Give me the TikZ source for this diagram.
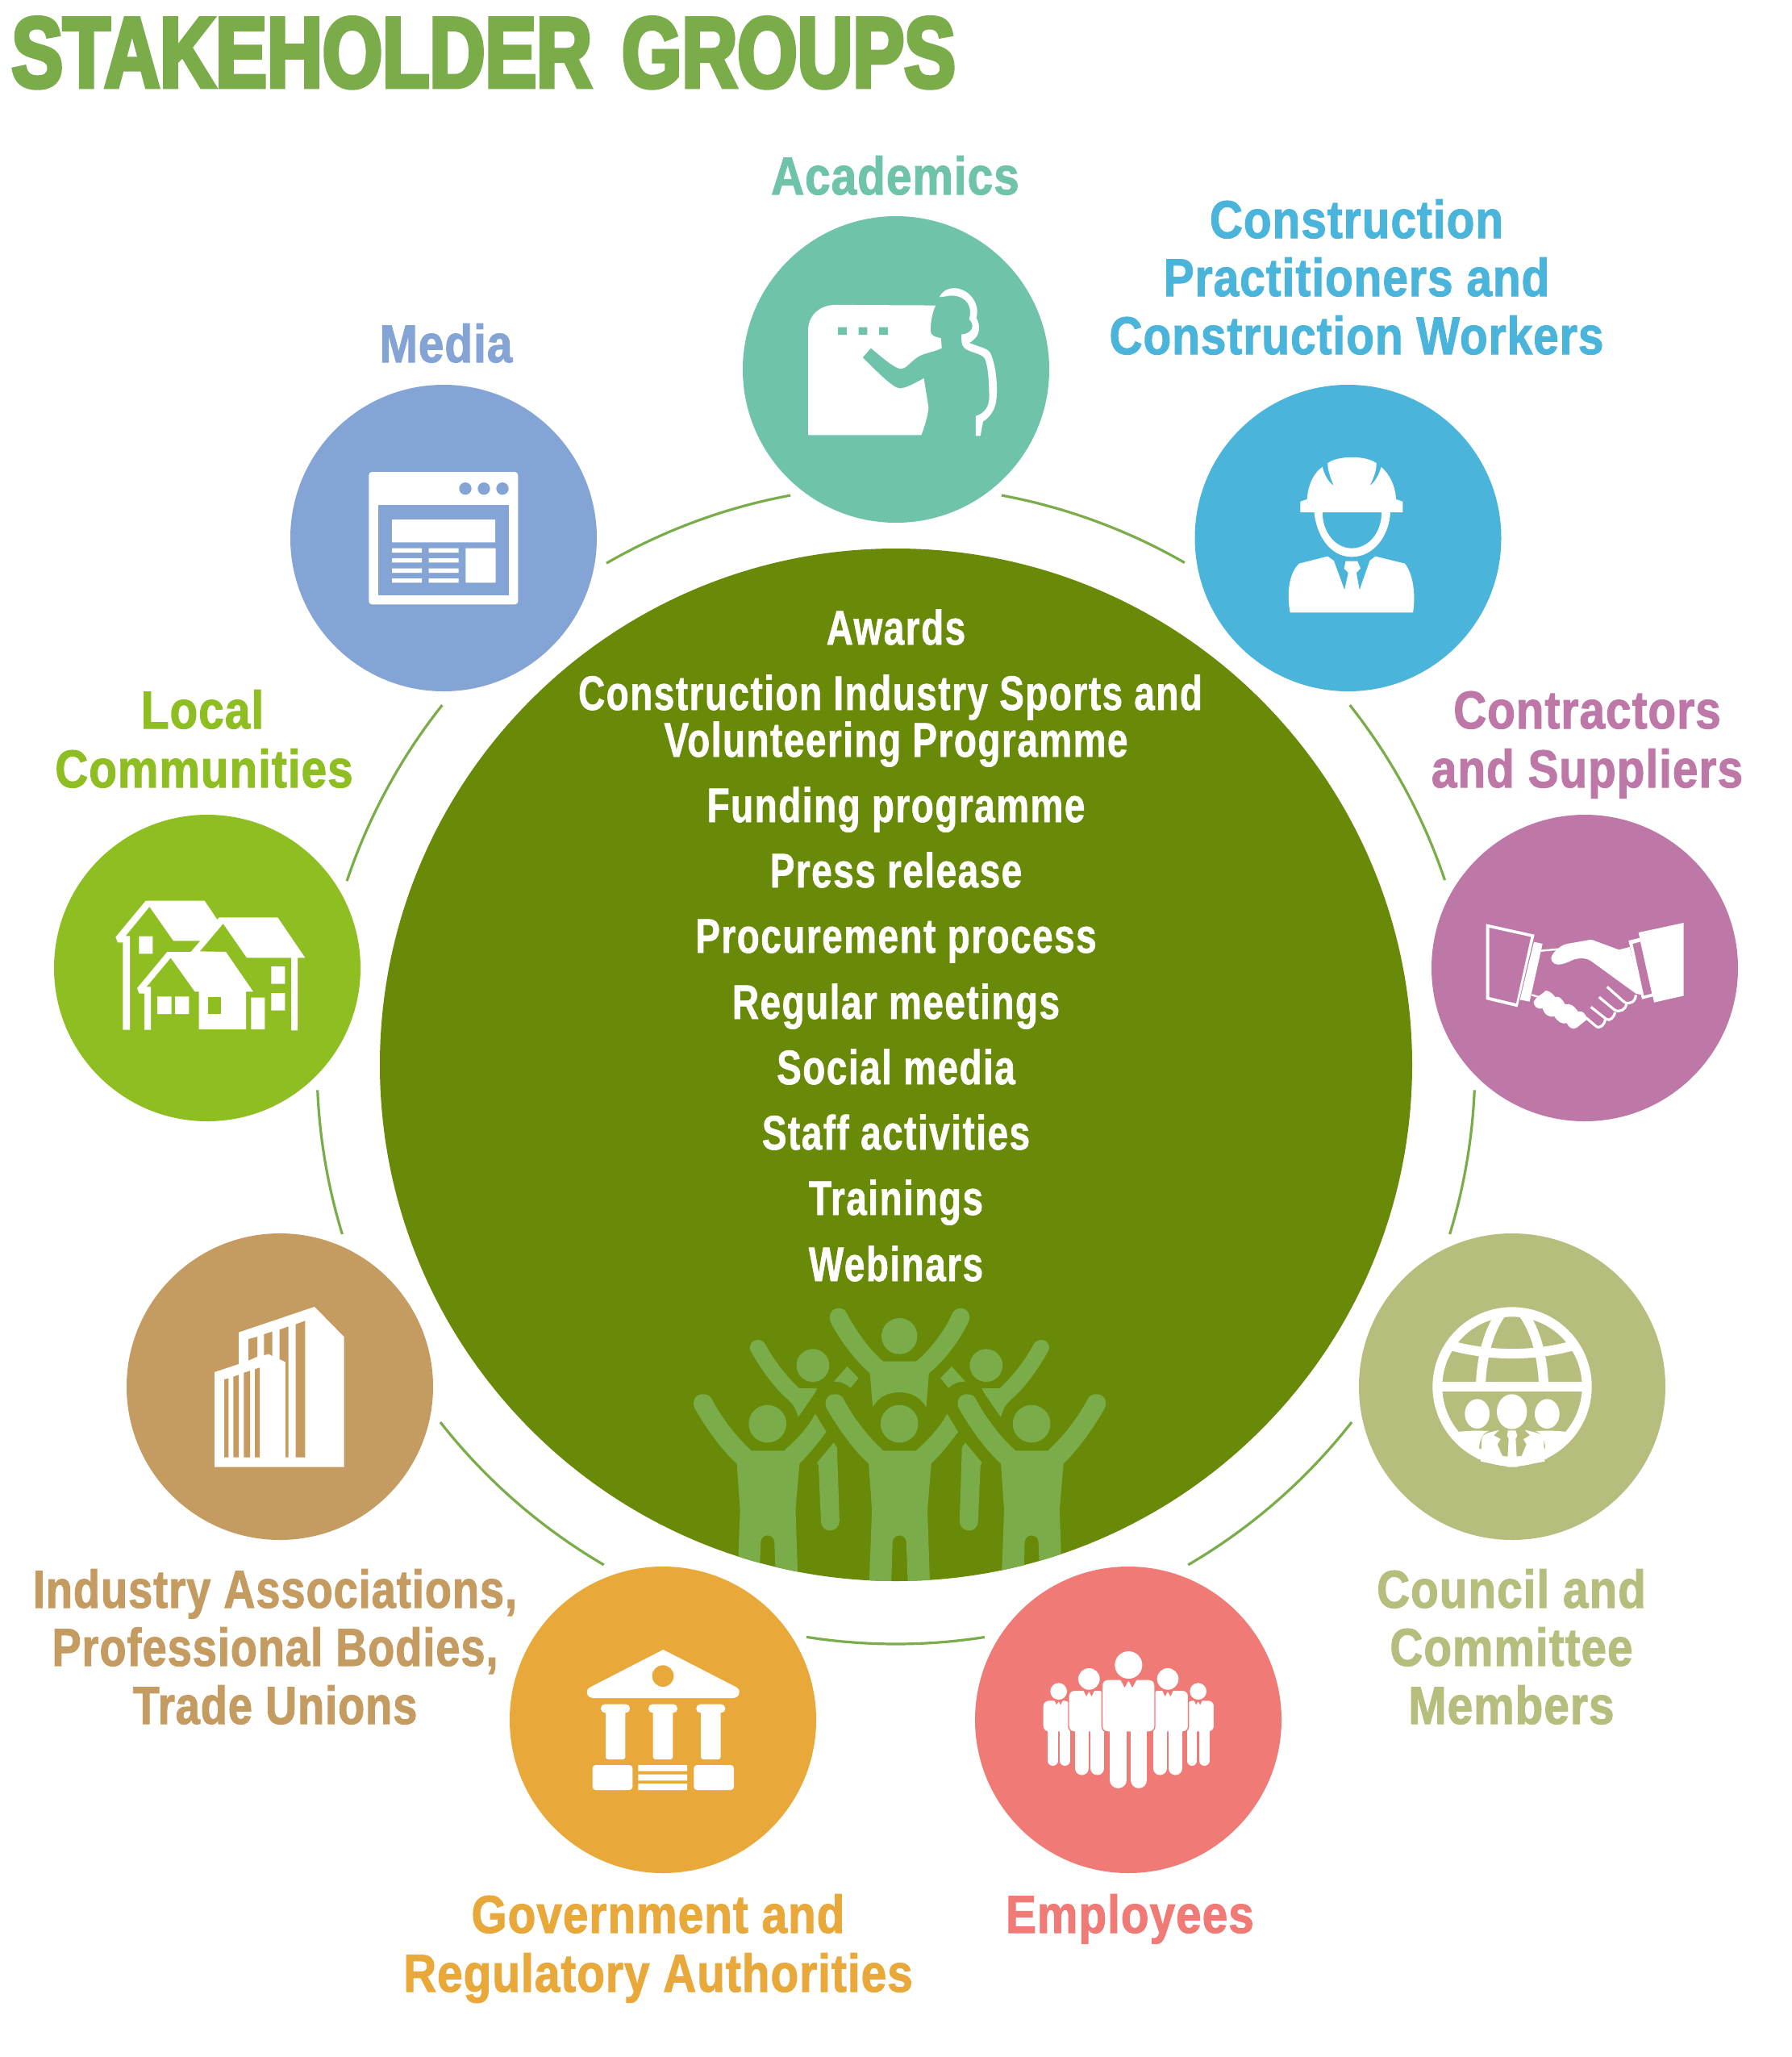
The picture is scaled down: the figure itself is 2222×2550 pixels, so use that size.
\documentclass[tikz,border=0pt]{standalone}
\usepackage{fontspec}
\setmainfont{Liberation Sans}
\newfontfamily\titlefont{Liberation Sans}[FakeStretch=0.77,FakeBold=4,WordSpace=1.4]
\newfontfamily\labelfont{Liberation Sans}[FakeStretch=0.86,FakeBold=1.5,LetterSpace=1.5]
\newfontfamily\labelnarrow{Liberation Sans}[FakeStretch=0.82,FakeBold=1.5,LetterSpace=1.5]
\newfontfamily\hubfont{Liberation Sans}[FakeStretch=0.765,FakeBold=1,LetterSpace=2.5]
\definecolor{cAcad}{HTML}{70C3AB}
\definecolor{cWork}{HTML}{4BB4DA}
\definecolor{cCont}{HTML}{BE78A8}
\definecolor{cCoun}{HTML}{B7BD7D}
\definecolor{cEmpl}{HTML}{F07A76}
\definecolor{cGovt}{HTML}{E9A83A}
\definecolor{cIndu}{HTML}{C49C61}
\definecolor{cLoca}{HTML}{8FBE23}
\definecolor{cMedi}{HTML}{84A4D5}
\definecolor{cHub}{HTML}{688A08}
\definecolor{cRing}{HTML}{7AAD4A}
\newcommand{\backfigure}{%
  \fill (508,338) ellipse[x radius=55,y radius=61];
  \fill (462,423)--(522,423)--(515,440)--(459,530) .. controls (450,495) and (440,480) .. (425,465) .. controls (380,425) and (330,345) .. (300,285) .. controls (290,262) and (305,243) .. (322,243) .. controls (335,243) and (345,250) .. (350,262) .. controls (375,315) and (420,380) .. (462,423) -- cycle;
  \fill (578,398)--(623,342)--(661,385)--(634,422) .. controls (620,405) and (600,398) .. (578,398) -- cycle;
  \fill (522,700)--(578,625)--(589,643)--(597,915) .. controls (597,940) and (580,952) .. (566,952) .. controls (550,952) and (535,940) .. (535,915) -- (527,710) -- cycle;
}
\newcommand{\frontlower}{%
  (905,703) -- (892,875) -- (900,1140) -- (826,1140) -- (821,995) .. controls (821,980) and (810,970) .. (798,970) .. controls (786,970) and (776,980) .. (775,995) -- (771,1140) -- (697,1140) -- (706,875) -- (695,703) .. controls (650,660) and (590,570) .. (553,495) .. controls (545,470) and (555,445) .. (582,445) .. controls (600,445) and (608,455) .. (612,465) .. controls (640,525) and (690,600) .. (738,648) .. controls (741,652) and (743,655) .. (745,655) -- cycle
}
\newcommand{\frontcut}{%
  \fill (798,555) ellipse[x radius=63,y radius=70];
  \fill (745,655)--(852,655) .. controls (855,655) and (858,653) .. (860,648) .. controls (900,610) and (935,565) .. (958,518) -- (995,585) .. controls (965,630) and (935,670) .. (905,703) -- \frontlower;
}
\newcommand{\frontfull}{%
  \fill (798,555) ellipse[x radius=63,y radius=70];
  \fill (745,655)--(852,655) .. controls (855,655) and (856,652) .. (859,648) .. controls (907,600) and (957,525) .. (985,465) .. controls (989,455) and (997,445) .. (1015,445) .. controls (1042,445) and (1052,470) .. (1044,495) .. controls (1007,570) and (947,660) .. (905,703) -- \frontlower;
}
\tikzset{
  stake/.style={circle,fill=#1,draw=none,minimum size=190pt,inner sep=0pt},
  hubdisc/.style={circle,fill=cHub,draw=none,minimum size=640pt,inner sep=0pt},
  ringarc/.style={draw=cRing,line width=1.6pt},
  ink/.style={fill=white,draw=none},
  labeltext/.style={text=#1,anchor=base,inner sep=0pt,font=\labelfont\bfseries\fontsize{33}{33}\selectfont},
  labelnarrowtext/.style={text=#1,anchor=base,inner sep=0pt,font=\labelnarrow\bfseries\fontsize{33}{33}\selectfont},
  hubtext/.style={text=white,anchor=base,inner sep=0pt,font=\hubfont\bfseries\fontsize{30}{30}\selectfont},
  titletext/.style={text=cRing,anchor=base west,inner sep=0pt,font=\titlefont\bfseries\fontsize{62}{62}\selectfont},
  zoomthree/.style={x=0.16667pt,y=-0.16667pt},
  zoomfive/.style={x=0.18497pt,y=-0.16667pt},
  zoomwide/.style={x=0.31888pt,y=-0.17857pt},
}
\begin{document}
\begin{tikzpicture}[x=0.5pt,y=-0.5pt]
\useasboundingbox (0,0) rectangle (2222,2550);
\fill[white] (0,0) rectangle (2222,2550);

\node[titletext] (title) at (14,108) {STAKEHOLDER GROUPS};

% ring
\coordinate (hubc) at (1111,1320);
\foreach \i/\s/\e in {1/79.5/60.1,2/38.4/18.6,3/-2.5/-17,4/-38.1/-59.7,5/-81.2/-98.9,6/-120.3/-141.9,7/-163/-177.5,8/161.5/141.6,9/120/100.5}{
  \path (hubc) ++(\s:359pt) coordinate (arcstart\i);
  \draw[ringarc] (arcstart\i) arc[start angle=\s,end angle=\e,radius=359pt];
}

% hub
\node[hubdisc] (hub) at (hubc) {};
\begin{scope}
\clip (hubc) circle[radius=640];
\begin{scope}[shift={(820,1580)},zoomfive,fill=cRing]
  % top figure
  \fill (798,229) ellipse[x radius=60,y radius=67];
  \fill (745,323)--(852,323) .. controls (855,323) and (856,321) .. (858,320) .. controls (900,280) and (950,210) .. (975,145) .. controls (985,125) and (1000,125) .. (1003,125) .. controls (1025,125) and (1040,150) .. (1030,175) .. controls (1000,245) and (950,320) .. (897,367) -- (888,493) .. controls (865,450) and (830,438) .. (798,438) .. controls (765,438) and (730,450) .. (709,493) -- (699,367) .. controls (650,320) and (595,240) .. (567,175) .. controls (558,145) and (575,125) .. (595,125) .. controls (610,125) and (618,135) .. (622,145) .. controls (650,205) and (695,275) .. (740,320) -- cycle;
  \backfigure
  \frontcut
\end{scope}
\begin{scope}[shift={(1410.7,1580)},x=-0.18497pt,y=-0.16667pt,fill=cRing]
  \backfigure
\end{scope}
\begin{scope}[shift={(656.5,1580)},zoomfive,fill=cRing]
  \frontcut
\end{scope}
\begin{scope}[shift={(983.9,1580)},zoomfive,fill=cRing]
  \frontfull
\end{scope}
\end{scope}

\node[hubtext] (h1) at (1111,799) {Awards};
\node[hubtext] (h2) at (1104,880) {Construction Industry Sports and};
\node[hubtext] (h3) at (1111,938) {Volunteering Programme};
\node[hubtext] (h4) at (1111,1019) {Funding programme};
\node[hubtext] (h5) at (1111,1100) {Press release};
\node[hubtext] (h6) at (1111,1181) {Procurement process};
\node[hubtext] (h7) at (1111,1263) {Regular meetings};
\node[hubtext] (h8) at (1111,1344) {Social media};
\node[hubtext] (h9) at (1111,1425) {Staff activities};
\node[hubtext] (h10) at (1111,1506) {Trainings};
\node[hubtext] (h11) at (1111,1588) {Webinars};

% stakeholder circles
\node[stake=cAcad] (academics) at (1111,458) {};
\node[stake=cWork] (workers) at (1671.5,667) {};
\node[stake=cCont] (contractors) at (1965,1200) {};
\node[stake=cCoun] (council) at (1875,1719) {};
\node[stake=cEmpl] (employees) at (1399,2132) {};
\node[stake=cGovt] (government) at (822,2132) {};
\node[stake=cIndu] (industry) at (347,1719) {};
\node[stake=cLoca] (local) at (257,1200) {};
\node[stake=cMedi] (media) at (550,667) {};

% labels
\node[labeltext=cAcad] (lAcad) at (1110,241) {Academics};
\node[labeltext=cWork] (lWork1) at (1682,295) {Construction};
\node[labeltext=cWork] (lWork2) at (1682,367) {Practitioners and};
\node[labeltext=cWork] (lWork3) at (1682,439) {Construction Workers};
\node[labeltext=cMedi] (lMedi) at (553,449) {Media};
\node[labeltext=cCont] (lCont1) at (1968,903) {Contractors};
\node[labeltext=cCont] (lCont2) at (1968,976) {and Suppliers};
\node[labeltext=cLoca] (lLoca1) at (251,903) {Local};
\node[labeltext=cLoca] (lLoca2) at (253,976) {Communities};
\node[labeltext=cCoun] (lCoun1) at (1874,1993) {Council and};
\node[labeltext=cCoun] (lCoun2) at (1874,2065) {Committee};
\node[labeltext=cCoun] (lCoun3) at (1874,2137) {Members};
\node[labelnarrowtext=cIndu] (lIndu1) at (341,1993) {Industry Associations,};
\node[labelnarrowtext=cIndu] (lIndu2) at (341,2065) {Professional Bodies,};
\node[labelnarrowtext=cIndu] (lIndu3) at (341,2137) {Trade Unions};
\node[labeltext=cGovt] (lGovt1) at (816,2396) {Government and};
\node[labeltext=cGovt] (lGovt2) at (816,2469) {Regulatory Authorities};
\node[labeltext=cEmpl] (lEmpl) at (1401,2396) {Employees};

% ICON academics / workers (wide crop coordinates)
\begin{scope}[shift={(900,260)},zoomwide]
  \fill[ink] (160,782) -- (160,420) .. controls (160,370) and (180,330) .. (215,330) -- (408,332) .. controls (400,360) and (398,400) .. (398,420) .. controls (398,435) and (405,442) .. (418,445) -- (420,480) .. controls (405,495) and (385,495) .. (370,515) .. controls (355,535) and (350,552) .. (340,552) .. controls (330,552) and (305,515) .. (282,480) -- (266,513) .. controls (290,555) and (325,620) .. (338,620) .. controls (350,620) and (370,600) .. (385,585) -- (394,685) .. controls (394,710) and (385,760) .. (380,782) -- cycle;
  \fill[cAcad] (218,408) rectangle (235,434) (258,408) rectangle (275,434) (298,408) rectangle (315,434);
  \fill[ink] (415,303) .. controls (420,285) and (430,272) .. (445,272) .. controls (475,275) and (495,330) .. (487,375) .. controls (495,400) and (497,440) .. (473,462) .. controls (495,478) and (510,480) .. (515,500) .. controls (525,540) and (530,620) .. (525,670) .. controls (522,700) and (510,725) .. (500,735) -- (495,785) -- (486,785) -- (486,716) .. controls (505,705) and (512,680) .. (512,650) .. controls (512,600) and (510,540) .. (503,515) .. controls (495,495) and (465,495) .. (460,470) .. controls (458,460) and (458,445) .. (458,433) .. controls (480,430) and (485,400) .. (473,380) .. controls (480,340) and (470,300) .. (440,298) .. controls (430,298) and (425,303) .. (415,303) -- cycle;
  % helmet
  \fill[ink] (1117,1050) -- (1117,1013) -- (1130,1005) .. controls (1132,950) and (1145,910) .. (1160,893) .. controls (1165,930) and (1175,950) .. (1182,958) .. controls (1175,930) and (1170,900) .. (1170,880) .. controls (1190,852) and (1245,852) .. (1265,880) .. controls (1265,910) and (1258,935) .. (1252,958) .. controls (1262,945) and (1270,920) .. (1274,893) .. controls (1290,915) and (1302,960) .. (1303,1005) -- (1316,1013) -- (1316,1050) -- cycle;
  \fill[ink] (1144,1050) .. controls (1148,1130) and (1175,1205) .. (1217,1205) .. controls (1260,1205) and (1290,1130) .. (1292,1050) -- (1275,1050) .. controls (1275,1120) and (1250,1175) .. (1217,1175) .. controls (1185,1175) and (1160,1120) .. (1160,1050) -- cycle;
  \fill[ink] (1097,1398) .. controls (1090,1330) and (1095,1260) .. (1115,1228) -- (1170,1203) -- (1182,1218) -- (1203,1320) -- (1210,1260) -- (1202,1245) -- (1205,1220) -- (1228,1220) -- (1234,1245) -- (1226,1260) -- (1232,1320) -- (1252,1218) -- (1263,1203) -- (1320,1228) .. controls (1335,1260) and (1342,1330) .. (1336,1398) -- cycle;
\end{scope}

% ICON media
\begin{scope}[shift={(340,470)},zoomthree]
  \fill[ink,rounded corners=2pt] (352,345) rectangle (907,838);
  \fill[cMedi] (387,468) rectangle (872,803);
  \fill[ink] (438,522) rectangle (822,607) (712,629) rectangle (824,757);
  \foreach \y in {629,666,704,741}{
    \fill[ink] (438,\y) rectangle (549,\y+16) (575,\y) rectangle (686,\y+16);
  }
  \foreach \x in {711,780,849}{\fill[cMedi] (\x,407) circle[radius=23];}
\end{scope}

% ICON local communities
\begin{scope}[shift={(60,1000)},zoomthree]
  \fill[ink] (250,485)--(362,350)--(581,350)--(628,420)--(635,412)--(853,412)--(955,562)--(927,562)--(927,832)--(903,832)--(903,562)--(738,562)--(650,435)--(563,538)--(660,540)--(762,688)--(735,688)--(735,828)--(560,828)--(560,688)--(545,688)--(455,562)--(365,670)--(381,670)--(381,830)--(357,830)--(357,695)--(338,695)--(330,675)--(442,540)--(530,540)--(565,499)--(465,499)--(376,372)--(287,481)--(303,481)--(303,830)--(277,830)--(277,505)--(258,505)--cycle;
  \fill[ink] (337,482) rectangle (388,547) (405,706) rectangle (458,771) (471,706) rectangle (523,771) (754,710) rectangle (805,828) (829,594) rectangle (880,659) (829,693) rectangle (880,758);
  \fill[cLoca] (594,707) rectangle (642,770);
\end{scope}

% ICON handshake
\begin{scope}[shift={(1780,1000)},zoomthree]
  \fill[ink,even odd rule] (188,436)--(368,476)--(305,745)--(188,717)--cycle (200,450)--(355,484)--(300,732)--(200,708)--cycle;
  \fill[ink] (366,503)--(398,510)--(350,725)--(314,718)--cycle;
  \draw[white,line width=1.2pt] (392,536)--(455,530) (358,700)--(395,711);
  \fill[ink] (365,725) .. controls (375,705) and (395,700) .. (410,684) .. controls (425,685) and (435,695) .. (445,708) .. controls (460,702) and (470,715) .. (482,735) .. controls (500,730) and (515,740) .. (530,762) .. controls (545,758) and (555,765) .. (565,790) -- (525,822) .. controls (510,832) and (495,820) .. (488,805) .. controls (470,810) and (455,800) .. (442,780) .. controls (425,785) and (405,775) .. (398,750) .. controls (375,755) and (365,740) .. (365,725) -- cycle;
  \fill[ink] (755,468)--(923,432)--(923,703)--(813,728)--cycle;
  \fill[ink,even odd rule] (718,498)--(760,488)--(812,705)--(768,716)--cycle (733,510)--(762,502)--(805,695)--(775,703)--cycle;
  \fill[ink] (455,587) .. controls (435,587) and (422,565) .. (435,550) .. controls (445,535) and (465,515) .. (490,510) -- (575,495) .. controls (585,495) and (590,497) .. (595,500) -- (682,532) -- (722,522) -- (768,700) -- (745,695) -- (580,575) .. controls (560,560) and (530,563) .. (510,570) .. controls (490,580) and (470,588) .. (455,587) -- cycle;
  \draw[white,line width=1.6pt] (638,670)--(700,725) .. controls (720,740) and (745,725) .. (745,700);
  \draw[white,line width=1.6pt] (608,708)--(665,755) .. controls (685,770) and (710,750) .. (710,735);
  \draw[white,line width=1.6pt] (578,745)--(635,790) .. controls (650,800) and (665,780) .. (668,765);
  \draw[white,line width=1.6pt] (560,785)--(595,815) .. controls (610,830) and (630,810) .. (632,790);
\end{scope}

% ICON industry
\begin{scope}[shift={(220,1580)},zoomthree]
  \fill[ink] (138,363)--(228,333)--(228,215)--(510,120)--(620,232)--(620,716)--(138,716)--cycle;
  \fill[cIndu] (264,240)--(297,231)--(297,305)--(264,320)--cycle
    (322,222)--(353,212)--(353,303)--(340,295)--(322,300)--cycle
    (380,205)--(413,193)--(413,680)--(402,680)--(402,325)--(380,315)--cycle
    (440,185)--(475,172)--(475,680)--(440,680)--cycle
    (174,390)--(190,386)--(190,680)--(174,680)--cycle
    (208,380)--(228,373)--(228,680)--(208,680)--cycle
    (247,365)--(270,358)--(270,680)--(247,680)--cycle
    (288,352)--(306,346)--(306,680)--(288,680)--cycle;
\end{scope}

% ICON council
\begin{scope}[shift={(1740,1580)},zoomthree]
  \begin{scope}
  \clip (405,417) circle[radius=290];
  \draw[white,line width=6pt] (288,410) .. controls (292,290) and (325,190) .. (375,130);
  \draw[white,line width=6pt] (522,410) .. controls (518,290) and (485,190) .. (435,130);
  \draw[white,line width=6pt] (170,262) .. controls (320,305) and (490,305) .. (640,262);
  \fill[ink] (100,399) rectangle (710,436);
  \end{scope}
  \draw[white,line width=6pt] (405,417) circle[radius=278];
  \fill[ink] (275,518) ellipse[x radius=46,y radius=55];
  \fill[ink] (404,510) ellipse[x radius=56,y radius=65];
  \fill[ink] (535,518) ellipse[x radius=46,y radius=55];
  \fill[ink] (205,585) .. controls (240,580) and (280,580) .. (318,582) .. controls (295,590) and (280,610) .. (278,688) -- cycle;
  \fill[ink] (605,585) .. controls (570,580) and (530,580) .. (492,582) .. controls (515,590) and (530,610) .. (532,688) -- cycle;
  \fill[ink] (288,695) -- (292,610) .. controls (295,595) and (305,590) .. (357,578) -- (337,598) -- (362,612) -- (350,632) -- (386,714) -- cycle;
  \fill[ink] (526,695) -- (522,610) .. controls (519,595) and (509,590) .. (452,578) -- (472,598) -- (447,612) -- (458,632) -- (424,714) -- cycle;
  \fill[ink] (390,580)--(418,580)--(424,600)--(418,610)--(424,716)--(386,716)--(392,610)--(386,600)--cycle;
\end{scope}

% ICON government
\begin{scope}[shift={(700,2020)},zoomthree]
  \fill[ink] (367,75) -- (640,215) .. controls (660,228) and (650,255) .. (625,255) -- (105,255) .. controls (85,255) and (72,228) .. (95,215) -- cycle;
  \fill[cGovt] (366,173) circle[radius=40];
  \foreach \a/\b/\c/\d in {135/243/153/226,312/420/329/403,490/598/507/581}{
    \fill[ink,rounded corners=2.5pt] (\a,278) rectangle (\b,310);
    \fill[ink,rounded corners=1.5pt] (\c,295) rectangle (\d,483);
  }
  \fill[ink,rounded corners=2pt] (104,504) rectangle (253,597);
  \fill[ink,rounded corners=2pt] (481,504) rectangle (630,597);
  \fill[ink] (274,504) rectangle (456,527) (274,539) rectangle (456,562) (274,573) rectangle (456,597);
\end{scope}

% ICON employees
\begin{scope}[shift={(1270,2020)},zoomthree]
  \foreach \hx/\hy/\hr/\tl/\tr/\tt/\la/\lb/\lw/\lbot/\cw/\cd in {
     128/230/31/69/172/263/106/151.5/6.3/488/17/17,
     647/230/31/603/707/263/624/670/6.3/488/17/17,
     241/184/40/165/300/226/214/272/8.5/516/22/23,
     534/184/40/476/611/226/504/562/8.5/516/22/23,
     388/132/51/289/486/186/349.5/426.5/10.2/560/32/30}{
    \draw[cEmpl,line width=\lw pt+1.4pt,line cap=round] (\la,375)--(\la,\lbot) (\lb,375)--(\lb,\lbot);
    \draw[cEmpl,line width=0.7pt,fill=white,rounded corners=3.5pt] (\tl,\tt) rectangle (\tr,381);
    \draw[white,line width=\lw pt,line cap=round] (\la,360)--(\la,\lbot) (\lb,360)--(\lb,\lbot);
    \fill[cEmpl] (\hx-\cw,\tt-3) -- (\hx-\cw+\cw*0.55,\tt+\cd) -- (\hx,\tt+4) -- (\hx+\cw-\cw*0.55,\tt+\cd) -- (\hx+\cw,\tt-3) -- cycle;
    \fill[ink] (\hx,\hy) circle[radius=\hr];
  }
\end{scope}
\end{tikzpicture}
\end{document}
